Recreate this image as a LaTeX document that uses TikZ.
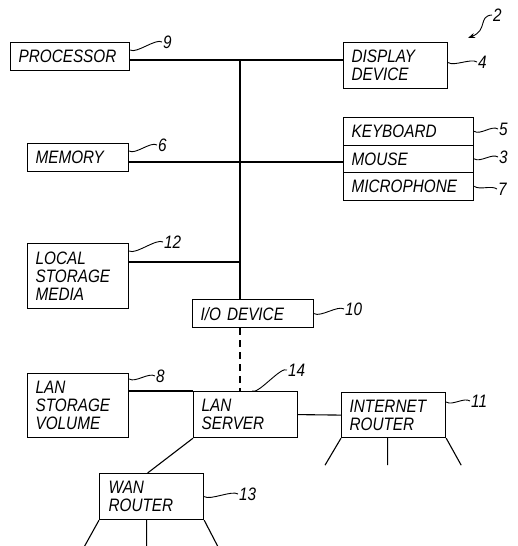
\documentclass[tikz,border=0pt]{standalone}
\usepackage{fontspec}
\setmainfont{Liberation Sans}[FakeStretch=0.85]
\usetikzlibrary{calc,arrows.meta}

\begin{document}
\begin{tikzpicture}[x=1pt,y=-1pt,
    blk/.style={draw,line width=1.2pt,inner xsep=8pt,inner ysep=0pt,anchor=north west,
        align=left,font=\fontsize{18}{18}\selectfont\itshape},
    wire/.style={line width=1.1pt},
    lead/.style={line width=0.9pt,
        to path={.. controls ($(\tikztostart)+(6,4)$) and ($(\tikztotarget)+(-6,-4)$) .. (\tikztotarget)}},
    refnum/.style={anchor=west,inner sep=1pt,font=\fontsize{18}{18}\selectfont\itshape}]

%% CONFIG
\useasboundingbox (0,0) rectangle (518,546);

%% Macro for a reference numeral with its lead line
% 1: id
% 2: start on the box
% 3: end of the lead
% 4: numeral
\newcommand{\refmark}[4]{
    \draw [lead] #2 to #3;
    \node [refnum] (#1) at #3 {#4};
}

% Draw the blocks on the bus
\node [blk,minimum width=119,minimum height=28,text width=103] (proc) at (10,42) {PROCESSOR};
\node [blk,minimum width=104,minimum height=46,text width=88] (disp) at (343,42) {DISPLAY\\DEVICE};
\node [blk,minimum width=101,minimum height=28,text width=85] (mem) at (27,143) {MEMORY};
\node [blk,minimum width=130,minimum height=27.5,text width=114] (kbd) at (343,117) {KEYBOARD};
\node [blk,minimum width=130,minimum height=27.5,text width=114] (mouse) at (343,144.5) {MOUSE};
\node [blk,minimum width=130,minimum height=27.5,text width=114] (mic) at (343,172) {MICROPHONE};
\node [blk,minimum width=101,minimum height=65,text width=85] (local) at (27,243) {LOCAL\\STORAGE\\MEDIA};
\node [blk,minimum width=121,minimum height=28,text width=105] (io) at (192,299) {I/O DEVICE};

% Draw the network blocks
\node [blk,minimum width=101,minimum height=64,text width=85] (lanstor) at (27,373) {LAN\\STORAGE\\VOLUME};
\node [blk,minimum width=104,minimum height=46,text width=88] (lansrv) at (193,391) {LAN\\SERVER};
\node [blk,minimum width=104,minimum height=45,text width=88] (inet) at (341,392) {INTERNET\\ROUTER};
\node [blk,minimum width=104,minimum height=46,text width=86,inner xsep=9pt] (wan) at (99,473) {WAN\\ROUTER};

% Bus taps
\coordinate (busN) at (240,60);
\coordinate (busM) at (240,162);
\coordinate (busL) at (240,262);
\coordinate (sysTip) at (468,38);

% Connectors of the bus
\draw [wire] (proc.east |- busN) -- (disp.west |- busN);
\draw [wire] (mem.east |- busM) -- (mouse.west |- busM);
\draw [wire] (local.east |- busL) -- (busL);
\draw [wire] (busN) -- (io.north -| busN);
\draw [wire,dash pattern=on 7pt off 5pt] (io.south -| busN) -- (lansrv.north -| busN);

% Connectors of the network
\draw [wire] (lanstor.east |- lansrv.north) -- (lansrv.north west);
\draw [wire] (lansrv.east) -- (inet.west);
\draw [wire] (lansrv.south west) -- ($(wan.north)+(-4,0)$);
\draw [wire] (inet.south west) -- ++(-16,27) ($(inet.south)+(-6,0)$) -- ++(0,27) (inet.south east) -- ++(15,27);
\draw [wire] (wan.south west) -- ++(-15,27) ($(wan.south)+(-5,0)$) -- ++(0,27) (wan.south east) -- ++(14,27);

% Reference numerals
\refmark{n9}{($(proc.north east)+(0,8)$)}{(162,42)}{9}
\refmark{n6}{($(mem.north east)+(0,8)$)}{(157,145)}{6}
\refmark{n4}{($(disp.east)+(0,-3)$)}{(477,62)}{4}
\refmark{n5}{(kbd.east)}{(498,129)}{5}
\refmark{n3}{(mouse.east)}{(498,157)}{3}
\refmark{n7}{(mic.east)}{(497,189)}{7}
\refmark{n12}{($(local.north east)+(0,8)$)}{(163,242)}{12}
\refmark{n10}{(io.east)}{(344,309)}{10}
\refmark{n8}{($(lanstor.north east)+(0,6)$)}{(155,376)}{8}
\refmark{n14}{($(lansrv.north west)+(59,0)$)}{(287,370)}{14}
\refmark{n11}{($(inet.north east)+(0,10)$)}{(470,401)}{11}
\refmark{n13}{(wan.east)}{(238,494)}{13}

% System numeral with its arrow
\node [refnum] (sys) at (492,15) {2};
\draw [line width=0.9pt,-{Stealth[length=7pt,width=5pt]}] (sys.west) .. controls (478,16) and (488,30) .. (sysTip);

\end{tikzpicture}
\end{document}
